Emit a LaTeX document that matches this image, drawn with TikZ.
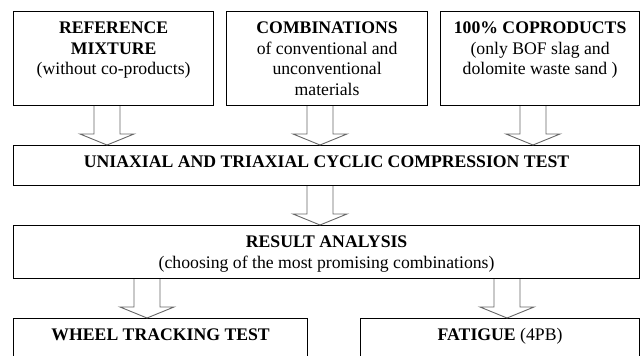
\documentclass[tikz,border=0pt]{standalone}
\usepackage{fontspec}
\setmainfont{Liberation Serif}
\usetikzlibrary{calc}

\newcommand{\hollowarrow}[3]{%
	\draw[arrowline] let \p1=(#2.south), \p2=(#3.north) in
		(#1pt-13pt,\y1) -- (#1pt-13pt,\y2+11pt) -- (#1pt-27pt,\y2+11pt) -- (#1pt,\y2)
		-- (#1pt+27pt,\y2+11pt) -- (#1pt+13pt,\y2+11pt) -- (#1pt+13pt,\y1);}

\begin{document}
\begin{tikzpicture}[x=1pt,y=-1pt,
		font=\fontsize{17.7}{20.5}\selectfont,
		box/.style = {draw,line width=1.2pt,align=center,anchor=north west,
			inner ysep=9pt},
		arrowline/.style = {draw=black!60,line width=0.9pt,line join=miter}]
		\path[use as bounding box] (0,0) rectangle (640,356);
		\clip (0,0) rectangle (640,356);
		% input mixtures (text height counts the lines above the last one)
		\node [box, minimum width=200pt, text height=54pt, text depth=22pt] (ref) at (13,11)
			{\textbf{REFERENCE}\\\textbf{MIXTURE}\\(without co-products)};
		\node [box, minimum width=201pt, text height=74.5pt, text depth=1.5pt] (comb) at (226,11)
			{\textbf{COMBINATIONS}\\of conventional and\\unconventional\\materials};
		\node [box, minimum width=199pt, text height=54pt, text depth=22pt] (coprod) at (440,11)
			{\textbf{100\% COPRODUCTS}\\(only BOF slag and\\dolomite waste sand )};
		% tests
		\node [box, minimum width=626pt, text height=13pt, text depth=9pt] (cyclic) at (13,145)
			{\textbf{UNIAXIAL AND TRIAXIAL CYCLIC COMPRESSION TEST}};
		\node [box, minimum width=626pt, text height=33.5pt, text depth=1.5pt] (result) at (13,225)
			{\textbf{RESULT ANALYSIS}\\(choosing of the most promising combinations)};
		\node [box, minimum width=294pt, text height=13pt, text depth=40pt] (wheel) at (13,318)
			{\textbf{WHEEL TRACKING TEST}};
		\node [box, minimum width=279pt, text height=13pt, text depth=40pt] (fatigue) at (360,318)
			{\textbf{FATIGUE} (4PB)};
		% arrows
		\hollowarrow{107}{ref}{cyclic}
		\hollowarrow{320}{comb}{cyclic}
		\hollowarrow{533}{coprod}{cyclic}
		\hollowarrow{320}{cyclic}{result}
		\hollowarrow{147}{result}{wheel}
		\hollowarrow{507}{result}{fatigue}
	\end{tikzpicture}
\end{document}
